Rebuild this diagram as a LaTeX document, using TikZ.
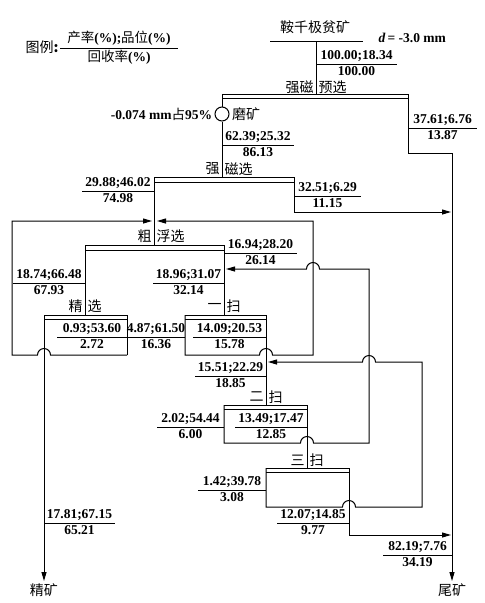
\documentclass[tikz,border=0pt]{standalone}
\usepackage{fontspec}
\setmainfont{Liberation Serif}
\newfontfamily\cjk{Noto Sans CJK SC}
\usetikzlibrary{arrows.meta, positioning}

% stream label: line with yield;grade above and recovery below
\newcommand{\flowlab}[5]{%
  \draw (#1) -- (#2) node[num, midway, above] (#3t) {#4} node[num, midway, below] (#3b) {#5};}

\begin{document}
\begin{tikzpicture}[x=1pt, y=-1pt, line width=1pt,
    num/.style={font=\fontsize{13.5}{13.5}\selectfont\bfseries, inner sep=2pt},
    zh/.style={font=\fontsize{14}{14}\selectfont\cjk, inner sep=2pt},
    flow/.style={-{Stealth[length=9pt,width=5pt,inset=0pt]}}]
    \useasboundingbox (0,0) rectangle (485,603);

    % legend
    \node[zh, anchor=east] (key) at (61,47) {图例\textbf{:}};
    \flowlab{60,48}{178,48}{key}{{\cjk\mdseries 产率}(\%);{\cjk\mdseries 品位}(\%)}{{\cjk\mdseries 回收率}(\%)}

    % raw ore
    \node[zh] (ore) at (315,27) {鞍千极贫矿};
    \node[num, anchor=west] (size) at (376,38) {\textit{d}\,= -3.0 mm};
    \coordinate (feed) at (316,41);
    \draw (270,41) -- (363,41);
    \draw (feed) -- (316,94);
    \flowlab{316,64}{397,64}{f0}{100.00;18.34}{100.00}

    % pre-concentration and grinding
    \node[zh, anchor=east] (pre1) at (316,87) {强磁};
    \node[zh, anchor=west] (pre2) at (316,87) {预选};
    \draw (222,94) rectangle (408,98);
    \node[draw, circle, minimum size=14pt, inner sep=0pt] (mill) at (222,114) {};
    \draw (222,98) -- (mill.north);
    \draw (mill.south) -- (222,177);
    \node[num, anchor=east] (mesh) at (mill.west) {-0.074 mm{\cjk\mdseries 占}95\%};
    \node[zh, anchor=west] (millt) at (mill.east) {磨矿};
    \flowlab{222,145}{294,145}{f1}{62.39;25.32}{86.13}
    \node[zh] (tail) at (452,590) {尾矿};
    \draw[flow] (408,98) -- (408,153) -- (452,153) -- (tail.north);
    \flowlab{408,128}{477,128}{f2}{37.61;6.76}{13.87}

    % strong magnetic separation
    \node[zh, anchor=east] (ms1) at (222,169) {强};
    \node[zh, anchor=west] (ms2) at (222,169) {磁选};
    \draw (154,177) rectangle (294,182);
    \draw (154,182) -- (154,245);
    \draw[flow] (294,182) -- (294,212) -- (451,212);
    \flowlab{82,191}{154,191}{f3}{29.88;46.02}{74.98}
    \flowlab{294,196}{361,196}{f4}{32.51;6.29}{11.15}

    % rougher flotation
    \node[zh, anchor=east] (ro1) at (154,236) {粗};
    \node[zh, anchor=west] (ro2) at (154,236) {浮选};
    \draw (85,245) rectangle (224,250);
    \draw (85,250) -- (85,315);
    \draw (224,250) -- (224,315);
    \flowlab{13,283}{85,283}{f5}{18.74;66.48}{67.93}
    \flowlab{224,253}{297,253}{f6}{16.94;28.20}{26.14}
    \flowlab{153,283}{224,283}{f7}{18.96;31.07}{32.14}

    % cleaner
    \node[zh, anchor=east] (cl1) at (85,306) {精};
    \node[zh, anchor=west] (cl2) at (85,306) {选};
    \draw (44,315) -- (127,315) -- (127,355);
    \draw (44,319) -- (127,319);
    \node[zh] (conc) at (44,590) {精矿};
    \draw[flow] (44,315) -- (conc.north);
    \draw[flow] (127,355) -- (50.5,355) arc[start angle=0, end angle=180, radius=6.5pt] -- (12,355) -- (12,221) -- (152,221);
    \flowlab{57,337}{127,337}{f8}{0.93;53.60}{2.72}
    \flowlab{127,337}{185,337}{f9}{4.87;61.50}{16.36}
    \flowlab{44,523}{115,523}{f10}{17.81;67.15}{65.21}

    % scavenger 1
    \node[zh, anchor=east] (sa1) at (224,306) {一};
    \node[zh, anchor=west] (sa2) at (224,306) {扫};
    \draw (185,315) -- (266,315) -- (266,405);
    \draw (185,319) -- (266,319);
    \draw[flow] (185,315) -- (185,355) -- (259.5,355) arc[start angle=180, end angle=0, radius=6.5pt] -- (313,355) -- (313,221) -- (157,221);
    \flowlab{193,337}{266,337}{f11}{14.09;20.53}{15.78}
    \flowlab{195,376}{266,376}{f12}{15.51;22.29}{18.85}

    % scavenger 2
    \node[zh, anchor=east] (sb1) at (266,397) {二};
    \node[zh, anchor=west] (sb2) at (266,397) {扫};
    \draw (224,405) -- (307,405) -- (307,468);
    \draw (224,409) -- (307,409);
    \draw[flow] (224,405) -- (224,443) -- (300.5,443) arc[start angle=180, end angle=0, radius=6.5pt] -- (369,443) -- (369,269) -- (319.5,269) arc[start angle=0, end angle=180, radius=6.5pt] -- (226,269);
    \flowlab{157,427}{224,427}{f13}{2.02;54.44}{6.00}
    \flowlab{235,427}{307,427}{f14}{13.49;17.47}{12.85}

    % scavenger 3
    \node[zh, anchor=east] (sc1) at (307,460) {三};
    \node[zh, anchor=west] (sc2) at (307,460) {扫};
    \draw[flow] (266,468) -- (349,468) -- (349,535) -- (451,535);
    \draw (266,472) -- (349,472);
    \draw[flow] (266,468) -- (266,507) -- (342.5,507) arc[start angle=180, end angle=0, radius=6.5pt] -- (422,507) -- (422,362) -- (375.5,362) arc[start angle=0, end angle=180, radius=6.5pt] -- (268,362);
    \flowlab{198,490}{266,490}{f15}{1.42;39.78}{3.08}
    \flowlab{277,523}{349,523}{f16}{12.07;14.85}{9.77}
    \flowlab{383,555}{452,555}{f17}{82.19;7.76}{34.19}
\end{tikzpicture}
\end{document}
